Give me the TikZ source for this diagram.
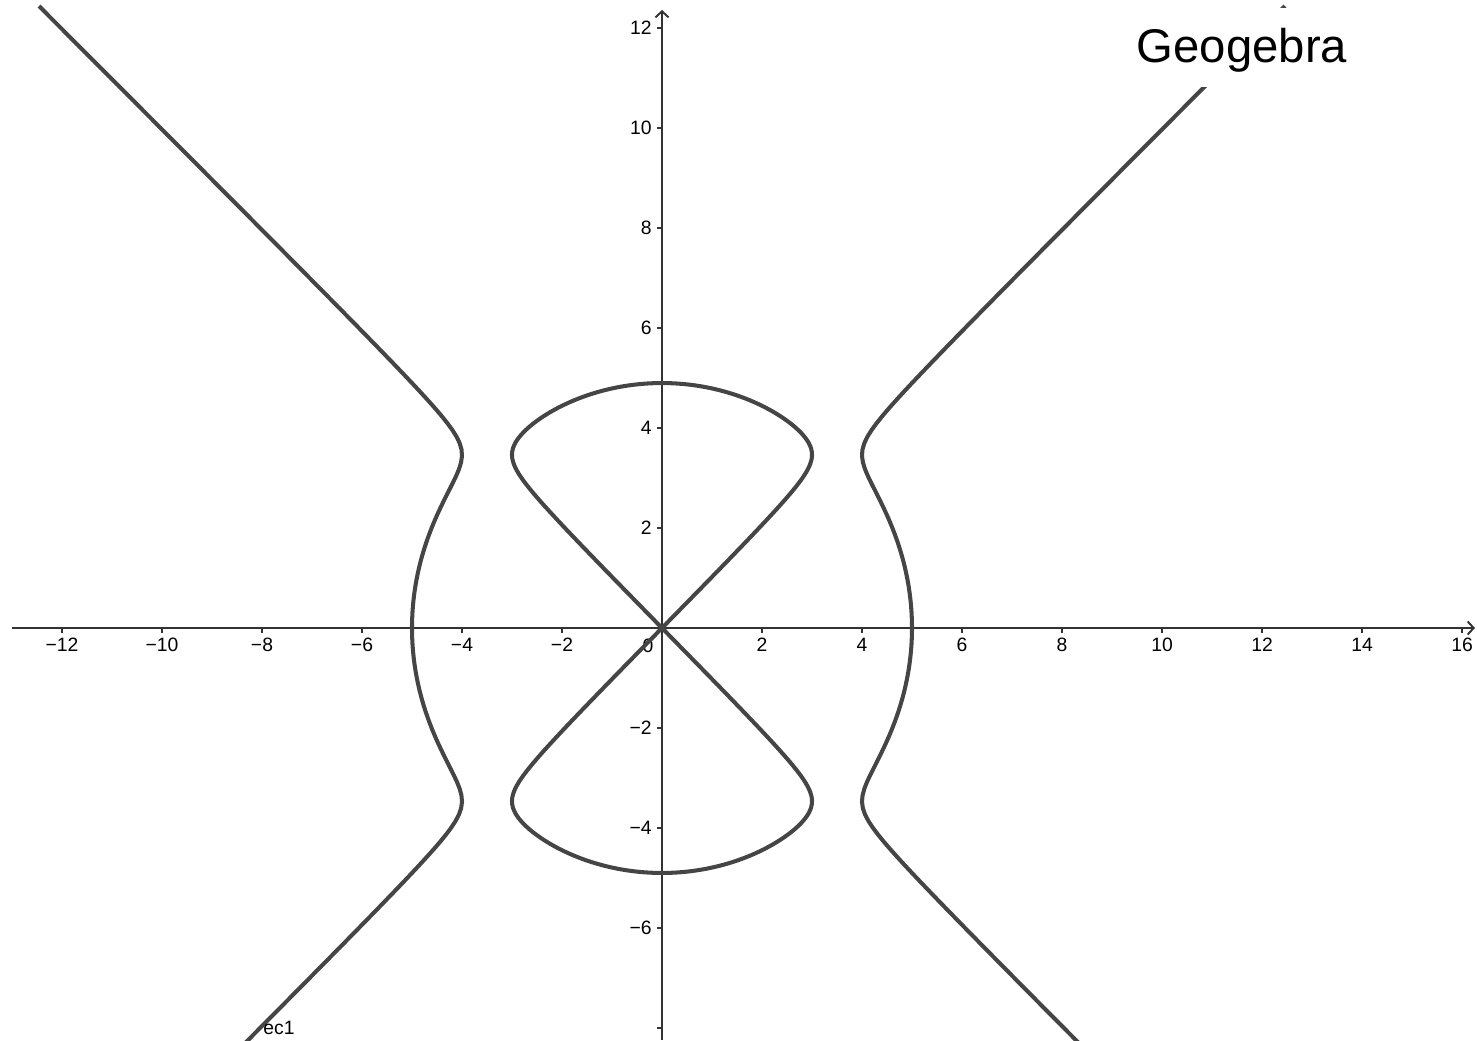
\documentclass[tikz,border=0pt]{standalone}
\usepackage{fontspec}
\setmainfont{Liberation Sans}
\usetikzlibrary{arrows.meta}

\begin{document}
\begin{tikzpicture}[
  x=1cm, y=1cm,
  curve/.style={line width=2.3pt, draw=black!73, line join=round},
  axis/.style={line width=1.1pt, draw=black!80, -{Straight Barb[length=1.2mm, width=2.6mm]}},
  tick/.style={line width=1.1pt, draw=black!80},
  lbl/.style={font=\fontsize{11}{13}\selectfont, inner sep=0pt},
  declare function={rt(\t)=sqrt((0.2*\t*\t)*(0.2*\t*\t)-0.96*\t*\t+6.25);}
]
  \useasboundingbox (-13.24,-8.24) rectangle (16.3,12.56);

  % Axes
  \draw[axis] (-13,0) -- (16.26,0);
  \draw[axis] (0,-8.24) -- (0,12.36);

  % Ticks on the x axis
  \foreach \v [count=\i] in {-12,-10,...,-2,2,4,...,16}{
    \pgfmathtruncatemacro\av{abs(\v)}
    \draw[tick] (\v,0) -- (\v,-0.1);
    \node[lbl, anchor=north] (xl\i) at (\v,-0.2) {\ifnum\v<0 −\fi\av};
  }

  % Ticks on the y axis
  \foreach \v [count=\i] in {-6,-4,-2,2,4,...,12}{
    \pgfmathtruncatemacro\av{abs(\v)}
    \draw[tick] (0,\v) -- (-0.1,\v);
    \node[lbl, anchor=east] (yl\i) at (-0.2,\v) {\ifnum\v<0 −\fi\av};
  }
  \draw[tick] (0,-8) -- (-0.1,-8);
  \node[lbl] (orig) at (-0.28,-0.36) {0};

  % Outer branches: x^4-25x^2 = y^4-24y^2
  \draw[curve] plot[domain=-8.3:12.44, samples=160, variable=\t]
    ({sqrt(12.5+5*rt(\t))}, \t);
  \draw[curve] plot[domain=-8.3:12.44, samples=160, variable=\t]
    ({-sqrt(12.5+5*rt(\t))}, \t);

  % Figure eight
  \draw[curve] plot[domain=-90:270, samples=361, variable=\t]
    ({(cos(\t)<0 ? -1 : 1)*sqrt(max(0,12.5-5*rt(4.89898*sin(\t))))}, {4.89898*sin(\t)}) -- cycle;

  % Labels
  \node[fill=white, font=\fontsize{26.9}{31}\selectfont, anchor=base, inner xsep=0.1cm,
        inner ysep=0pt, text height=1.1cm, text depth=0.48cm] (title) at (11.6,11.3) {Geogebra};
  \node[lbl, anchor=base] (ec) at (-7.66,-8.12) {ec1};
\end{tikzpicture}
\end{document}
